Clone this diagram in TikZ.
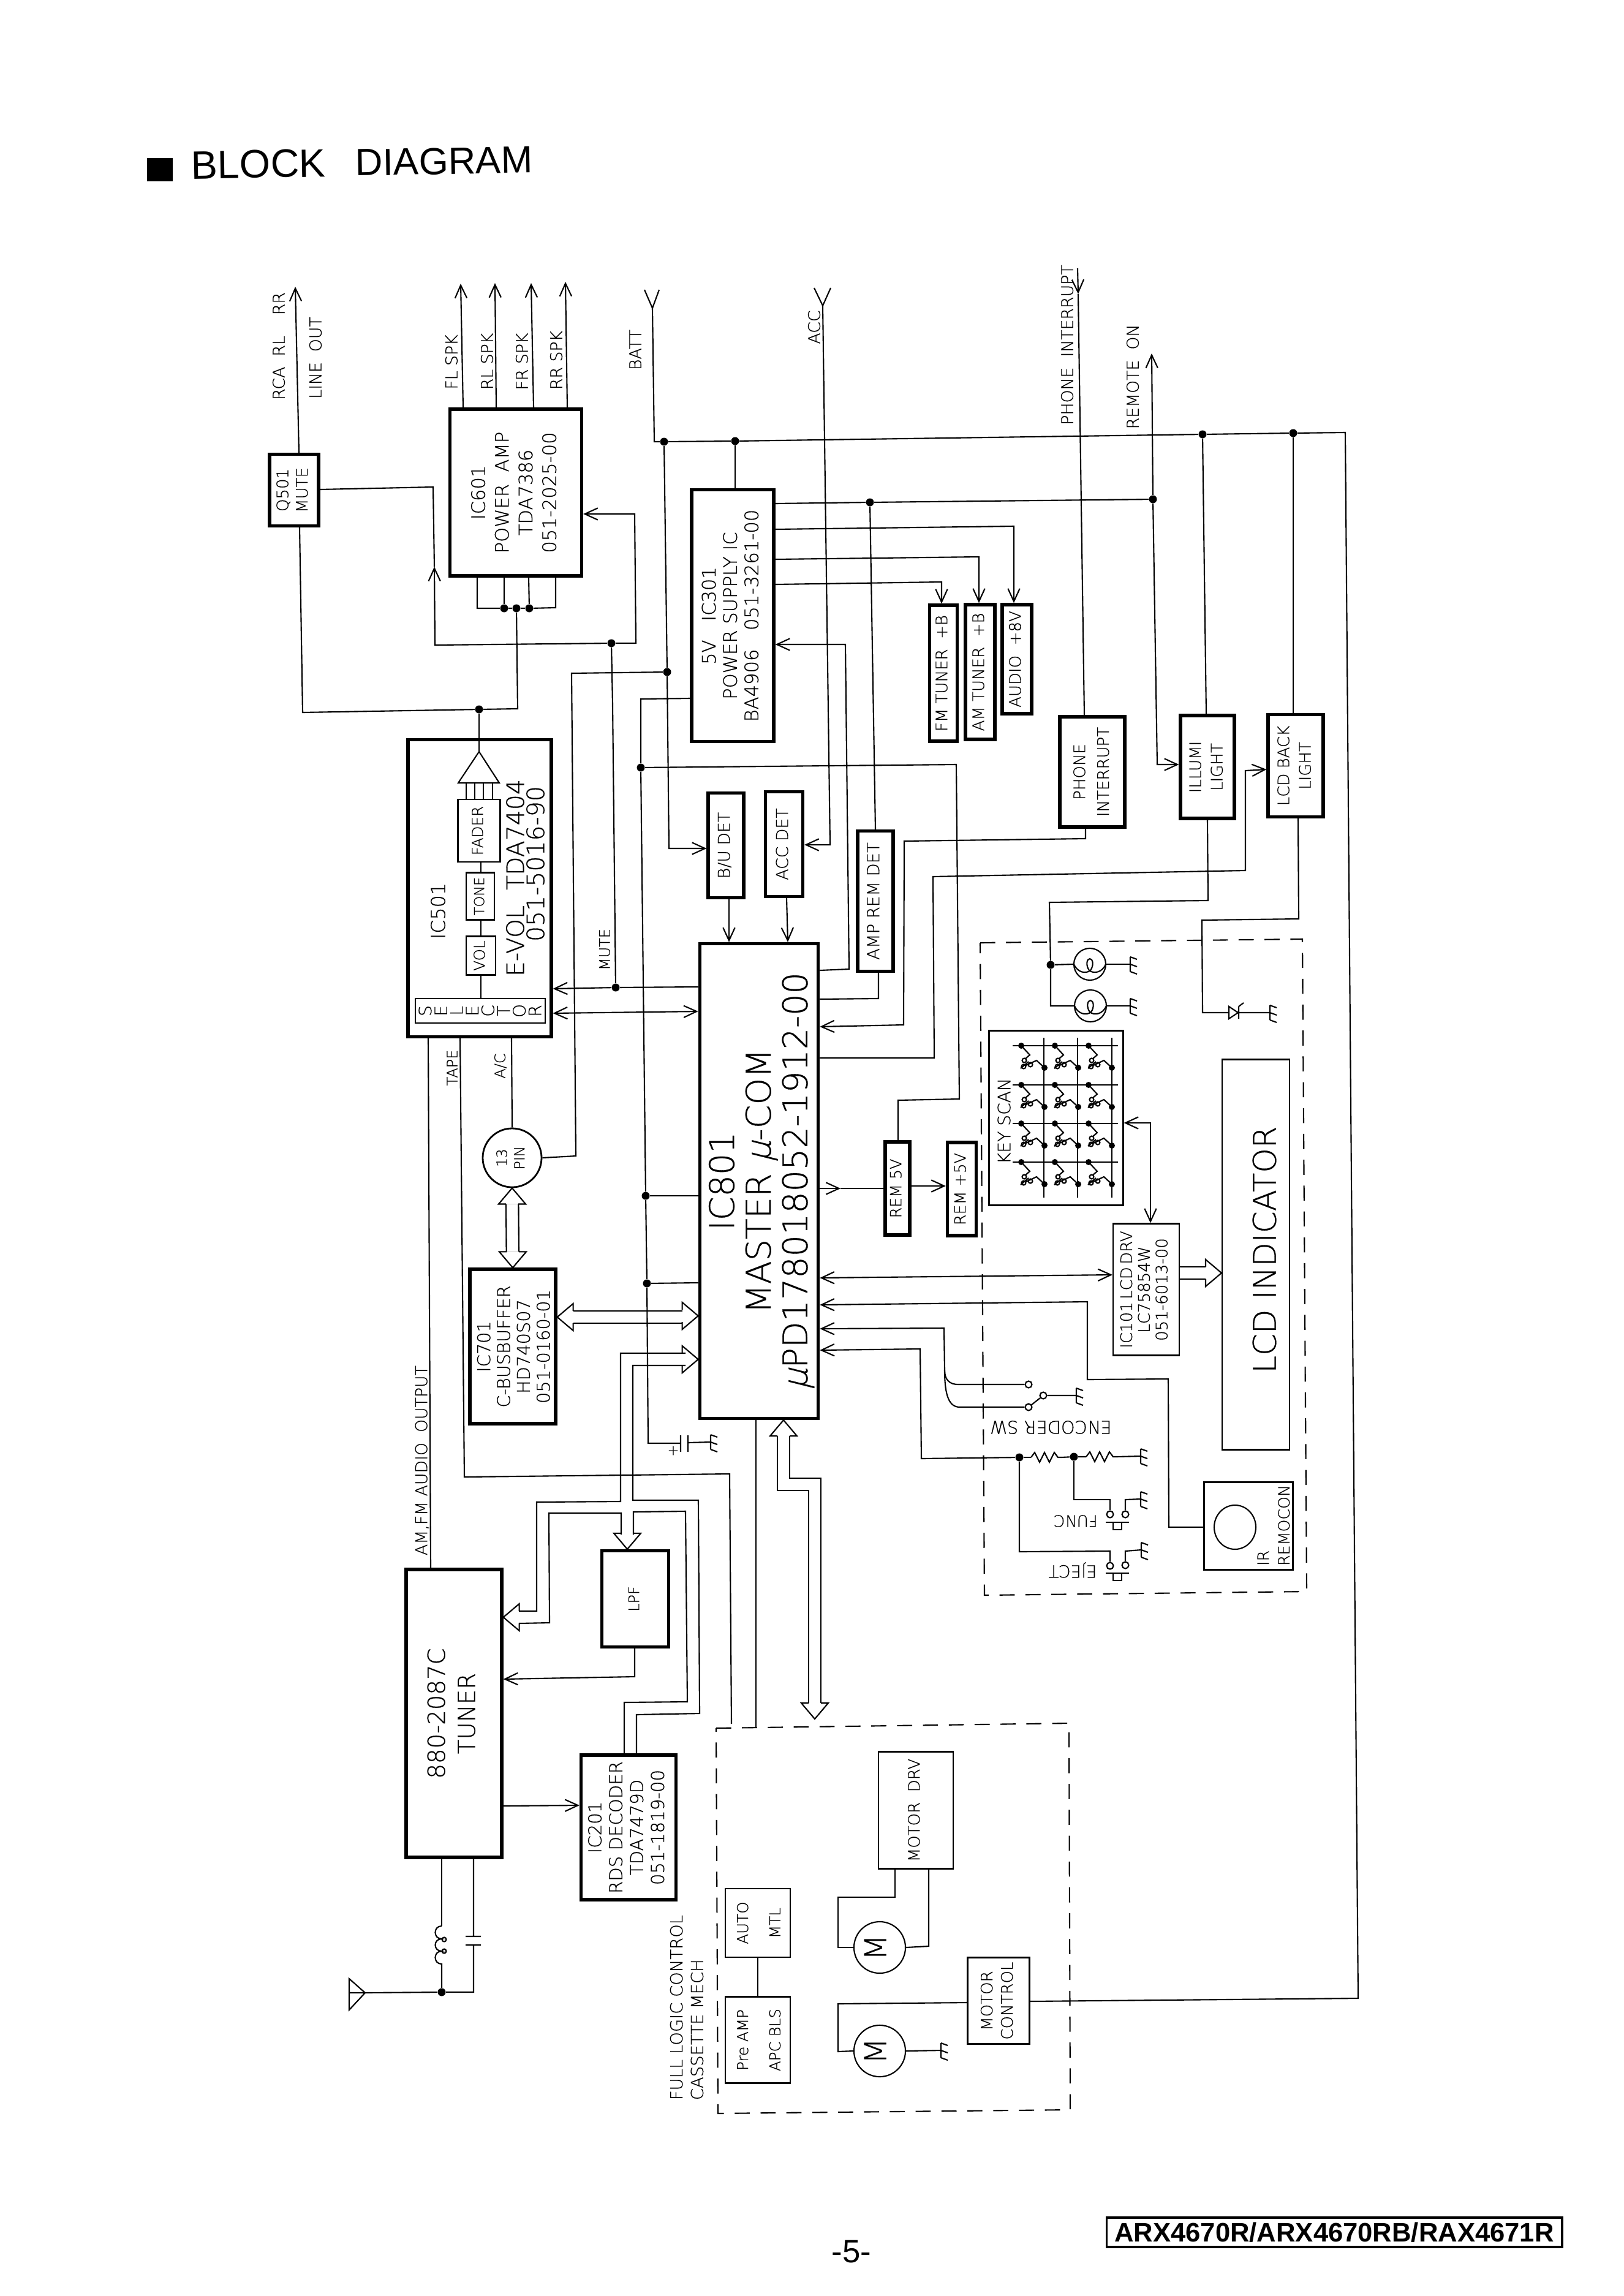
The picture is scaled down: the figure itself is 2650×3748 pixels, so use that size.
\documentclass[tikz,border=0pt]{standalone}
\usepackage{fontspec}
\usepackage{graphicx}
\usetikzlibrary{arrows.meta}
\setmainfont[RawFeature={embolden=0.5}]{DejaVu Sans ExtraLight}
\newfontfamily\heavyfont{Liberation Sans}
\newcommand{\vtxt}[1]{\rotatebox{90}{\begin{tabular}{@{}c@{}}#1\end{tabular}}}
% open bus arrowhead, tip at #1, pointing along angle #2
\newcommand{\bushead}[2]{\draw[wire,shift={(#1)},rotate=#2] (-26,-10) -- (-26,-22) -- (0,0) -- (-26,22) -- (-26,10);}
\tikzset{
  fs/.style 2 args={font=\fontsize{#1}{#2}\selectfont},
  block/.style 2 args={draw,line width=1.5pt,inner sep=0pt,align=center,
              minimum width=#1*0.01cm,minimum height=#2*0.01cm},
  thinblock/.style 2 args={draw,line width=.6pt,inner sep=0pt,align=center,
              minimum width=#1*0.01cm,minimum height=#2*0.01cm},
  wire/.style={line width=.6pt},
  arr/.style={wire,-{Straight Barb[length=6pt,width=5.5pt]}},
  arrb/.style={wire,{Straight Barb[length=6pt,width=5.5pt]}-{Straight Barb[length=6pt,width=5.5pt]}},
  busline/.style={line width=.6pt,double,double distance=5.2pt,shorten <=7.4pt,shorten >=7.4pt},
  dashbox/.style={line width=.6pt,dash pattern=on 7pt off 5pt},
  dot/.style={circle,fill,inner sep=0pt,minimum size=.13cm},
  term/.style={circle,draw,fill=white,line width=.6pt,inner sep=0pt,minimum size=.11cm},
  vlab/.style={rotate=90,inner sep=0pt,fs={7.6}{9.6}},
  flab/.style={rotate=180,inner sep=0pt,fs={7.8}{9.6}},
  gnd/.pic={\draw[wire] (0,-12) -- (0,12) (0,-12) -- (11,-8) (0,0) -- (11,4) (0,12) -- (11,16);},
  res/.pic={\draw[wire] (0,0) -- (6,-8) -- (14,8) -- (22,-8) -- (30,8) -- (38,-8) -- (44,0) -- (49,0);},
  bulb/.pic={\draw[wire] (-26,0) .. controls (-20,14) and (-6,16) .. (1,10) .. controls (7,2) and (5,-9) .. (0,-9)
              .. controls (-5,-9) and (-7,2) .. (-1,10) .. controls (6,16) and (20,14) .. (26,0);},
  pushkey/.pic={\draw[wire] (-19,0) -- (19,0) (-7,0) rectangle (7,12);},
  keysw/.pic={\draw[wire] (0,0) -- (14,15) -- (7,21) (8,32) -- (25,24) -- (38,36) (-1,37) -- (12,26);
              \draw[wire] (5,24) circle (3.5) (4,34) circle (3.5) (15,31) circle (3.5);
              \fill (0,0) circle (5) (38,36) circle (5);}
}
\begin{document}
\begin{tikzpicture}[x=0.01cm,y=-0.01cm]
  \useasboundingbox (0,0) rectangle (2650,3748);

  % heading and page furniture
  \node[fill,minimum width=.42cm,minimum height=.38cm,inner sep=0pt] (mark) at (261,277) {};
  \node[font=\heavyfont\fontsize{18.4}{20}\selectfont,inner sep=0pt,rotate=1] (titlea) at (422,268) {BLOCK};
  \node[font=\heavyfont\fontsize{17.6}{20}\selectfont,inner sep=0pt,rotate=1] (titleb) at (725,263) {DIAGRAM};
  \node[font=\heavyfont\fontsize{15}{18}\selectfont,inner sep=0pt] (pageno) at (1390,3676) {-5-};
  \node[draw,line width=1pt,minimum width=7.43cm,minimum height=.48cm,inner sep=0pt,
        font=\heavyfont\bfseries\fontsize{12.4}{14}\selectfont] (model) at (2178,3644) {ARX4670R/ARX4670RB/RAX4671R};

  % blocks
  \node[block={80}{117},fs={7.4}{9}] (q501) at (480,800) {\vtxt{Q501\\MUTE}};
  \node[block={215}{272},fs={8.7}{11}] (ic601) at (842,804) {\vtxt{IC601\\POWER\ \ AMP\\TDA7386\\051-2025-00}};
  \node[block={134}{411},fs={8.7}{9.9}] (ic301) at (1196,1005) {\vtxt{5V\quad IC301\\POWER\ SUPPLY\ IC\\BA4906\quad 051-3261-00}};
  \node[block={45}{222},fs={7.4}{9}] (fmb) at (1540,1099) {\vtxt{FM\ TUNER\ \ +B}};
  \node[block={48}{220},fs={7.4}{9}] (amb) at (1600,1097) {\vtxt{AM\ TUNER\ \ +B}};
  \node[block={48}{178},fs={7.4}{9}] (audb) at (1660,1076) {\vtxt{AUDIO\ \ +8V}};
  \node[block={106}{180},fs={7.4}{11}] (phone) at (1783,1260) {\vtxt{PHONE\\INTERRUPT}};
  \node[block={88}{168},fs={7.4}{10}] (illumi) at (1971,1252) {\vtxt{ILLUMI\\LIGHT}};
  \node[block={90}{167},fs={7.4}{10}] (lcdback) at (2115,1250) {\vtxt{LCD BACK\\LIGHT}};
  \node[block={234}{485}] (ic501) at (783,1450) {};
  \node[block={58}{171},fs={7.6}{9}] (budet) at (1185,1380) {\vtxt{B/U DET}};
  \node[block={61}{171},fs={7.6}{9}] (accdet) at (1280,1378) {\vtxt{ACC DET}};
  \node[block={58}{229},fs={7.8}{9}] (ampdet) at (1429,1471) {\vtxt{AMP REM DET}};
  \node[block={192}{775},fs={15.8}{17}] (ic801) at (1239,1928)
       {\hspace{4pt}\vtxt{IC801\hspace{12pt}\\MASTER {\addfontfeature{FakeSlant=.25}µ}-COM\hspace{3pt}\\{\addfontfeature{FakeSlant=.25}µ}PD178018052-1912-00}};
  \node[block={40}{152},fs={7.2}{9}] (rem5) at (1465,1940) {\vtxt{REM\ 5V}};
  \node[block={47}{152},fs={7.2}{9}] (remp5) at (1570,1941) {\vtxt{REM\ +5V}};
  \node[block={136}{252},fs={8.2}{9.2}] (ic701) at (837,2198) {\hspace{3pt}\vtxt{IC701\\C-BUSBUFFER\\HD740S07\\051-0160-01}};
  \node[block={156}{470},fs={11}{14}] (tuner) at (741,2797) {\vtxt{880-2087C\\TUNER}};
  \node[block={109}{157},fs={6.8}{9}] (lpf) at (1037,2610) {\vtxt{LPF}};
  \node[block={155}{236},fs={8.3}{9.7}] (rds) at (1026,2983) {\vtxt{IC201\\RDS\ DECODER\\TDA7479D\\051-1819-00}};
  \node[circle,draw,line width=.8pt,inner sep=0pt,minimum size=.96cm,fs={6.6}{8.2}] (pin13) at (836,1890) {\vtxt{13\\PIN}};

  % inside the e-volume IC
  \node[vlab,fs={9}{11}] (ic501lab) at (715,1487) {IC501};
  \node[vlab,fs={11.2}{13}] (ic501evol) at (841,1433) {E-VOL\ \ TDA7404};
  \node[vlab,fs={11.2}{13}] (ic501no) at (874,1410) {051-5016-90};
  \node[thinblock={69}{102},fs={7}{9}] (fader) at (782,1356) {\vtxt{FADER}};
  \node[thinblock={46}{77},fs={6.4}{9}] (tone) at (784,1463) {\vtxt{TONE}};
  \node[thinblock={48}{63},fs={7}{9}] (vol) at (785,1560) {\vtxt{VOL}};
  \node[thinblock={212}{40}] (selbox) at (784,1650) {};
  \foreach \ch [count=\n] in {S,E,L,E,C,T,O,R}
    \node[vlab,fs={8}{9}] (sel\n) at ({694+25.6*(\n-1)},1650) {\ch};
  \draw[wire] (782,1227) -- (748,1278) -- (815,1278) -- cycle;
  \foreach \fx in {761,775,789,804}
    \draw[wire] (\fx,1278) -- (\fx,0 |- fader.north);
  \draw[wire] (785,0 |- fader.south) -- (785,0 |- tone.north) (785,0 |- tone.south) -- (785,0 |- vol.north)
              (785,0 |- vol.south) -- (785,0 |- selbox.north);

  % outer labels
  \node[vlab] (rcalab) at (455,565) {RCA\ \ RL\ \ \ \ RR};
  \node[vlab] (linelab) at (515,584) {LINE\ \ OUT};
  \node[vlab] (fllab) at (737,591) {FL\ SPK};
  \node[vlab] (rllab) at (795,590) {RL\ SPK};
  \node[vlab] (frlab) at (852,590) {FR\ SPK};
  \node[vlab] (rrlab) at (908,588) {RR\ SPK};
  \node[vlab] (battlab) at (1037,571) {BATT};
  \node[vlab] (acclab) at (1329,534) {ACC};
  \node[vlab] (phonelab) at (1742,563) {PHONE\ \ INTERRUPT};
  \node[vlab] (remlab) at (1849,615) {REMOTE\ \ ON};
  \node[vlab,fs={6.8}{8}] (mutelab) at (987,1550) {MUTE};
  \node[vlab,fs={6.8}{8}] (tapelab) at (738,1743) {TAPE};
  \node[vlab,fs={6.8}{8}] (aclab) at (817,1740) {A/C};
  \node[vlab] (amfmlab) at (689,2384) {AM,FM\ AUDIO\ \ OUTPUT};
  \node[vlab,align=left,fs={7.8}{9.6}] (mechlab) at (1121,3277) {FULL\ LOGIC\ CONTROL\\CASSETTE\ MECH};

  % front panel group
  \draw[dashbox] (1600,1539) -- (2126,1533) -- (2133,2598) -- (1607,2604) -- cycle;
  \node[thinblock={219}{285}] (keyscan) at (1724,1825) {};
  \node[vlab,fs={8}{9}] (keylab) at (1639,1830) {KEY\ SCAN};
  \node[thinblock={108}{215},fs={7.4}{8.2}] (ic101) at (1871,2105) {\vtxt{IC101\,LCD\,DRV\\LC75854W\\051-6013-00}};
  \node[thinblock={110}{637}] (lcdind) at (2050,2048) {};
  \node[vlab,fs={14.6}{16}] (lcdtxt) at (2064,2040) {LCD\ INDICATOR};
  \node[thinblock={145}{143}] (remocon) at (2038,2491) {};
  \draw[wire] (2016,2493) ellipse (34 and 36);
  \node[vlab,align=left,fs={7.2}{9.6}] (remotxt) at (2079,2490) {IR\\REMOCON};
  \node[circle,draw,line width=.6pt,inner sep=0pt,minimum size=.52cm] (lampa) at (1779,1574) {};
  \node[circle,draw,line width=.6pt,inner sep=0pt,minimum size=.52cm] (lampb) at (1780,1642) {};
  \pic at (lampa) {bulb};
  \pic at (lampb) {bulb};
  \node[flab,fs={8.2}{9.6}] (enclab) at (1715,2330) {ENCODER\ SW};
  \node[flab,fs={7.4}{9}] (funclab) at (1756,2483) {FUNC};
  \node[flab] (ejectlab) at (1751,2563) {EJECT};

  % cassette mech group
  \draw[dashbox] (1169,2821) -- (1745,2813) -- (1747,3444) -- (1172,3450) -- cycle;
  \node[thinblock={122}{191},fs={7.4}{9}] (motordrv) at (1495,2955) {\vtxt{MOTOR\ \ DRV}};
  \node[thinblock={100}{112},fs={7}{15}] (automtl) at (1237,3139) {\vtxt{AUTO\\MTL}};
  \node[thinblock={100}{141},fs={7}{15}] (preamp) at (1237,3330) {\vtxt{Pre\ AMP\\APC\ BLS}};
  \node[thinblock={101}{141},fs={7.4}{9.4}] (motorctl) at (1630,3266) {\vtxt{MOTOR\\CONTROL}};
  \node[circle,draw,line width=.6pt,inner sep=0pt,minimum size=.84cm,fs={14}{15}] (motora) at (1436,3179) {\vtxt{M}};
  \node[circle,draw,line width=.6pt,inner sep=0pt,minimum size=.84cm,fs={14}{15}] (motorb) at (1436,3348) {\vtxt{M}};

  % junctions
  \node[dot] (jbatt) at (1084,721) {};
  \node[dot] (jpsu) at (1200,720) {};
  \node[dot] (jillum) at (1963,709) {};
  \node[dot] (jback) at (2111,707) {};
  \node[dot] (jbu) at (1089,1097) {};
  \node[dot] (jamp) at (1420,820) {};
  \node[dot] (jrem) at (1882,815) {};
  \node[dot] (jfeed) at (998,1050) {};
  \node[dot] (jmix) at (782,1158) {};
  \node[dot] (jpa) at (823,993) {};
  \node[dot] (jpb) at (843,993) {};
  \node[dot] (jpc) at (864,993) {};
  \node[dot] (jmute) at (1005,1612) {};
  \node[dot] (jref) at (1046,1253) {};
  \node[dot] (jla) at (1054,1952) {};
  \node[dot] (jlb) at (1056,2095) {};
  \node[dot] (jlamp) at (1715,1575) {};
  \node[dot] (jres) at (1664,2379) {};
  \node[dot] (jfunc) at (1753,2378) {};
  \node[dot] (jant) at (721,3252) {};
  \node[term] (tenca) at (1679,2260) {};
  \node[term] (tencb) at (1703,2278) {};
  \node[term] (tencc) at (1679,2297) {};
  \node[term] (tfunca) at (1812,2472) {};
  \node[term] (tfuncb) at (1837,2472) {};
  \node[term] (tejca) at (1812,2556) {};
  \node[term] (tejcb) at (1837,2555) {};
  \coordinate (battant) at (1065,503);
  \coordinate (accant) at (1343,499);
  \coordinate (linetip) at (482,468);
  \coordinate (fltip) at (752,463);
  \coordinate (rltip) at (808,462);
  \coordinate (frtip) at (867,462);
  \coordinate (rrtip) at (923,460);
  \coordinate (remtip) at (1880,577);
  \coordinate (phtop) at (1759,438);
  \coordinate (phtip) at (1760,480);

  % buses
  \draw[busline] (pin13.south) -- (ic701.north);
  \bushead{pin13.south}{90}
  \bushead{ic701.north}{-90}
  \draw[busline] (ic701.east |- 0,2150) -- (ic801.west |- 0,2150);
  \bushead{ic701.east |- 0,2150}{180}
  \bushead{ic801.west |- 0,2148}{0}
  \draw[busline] (1279,0 |- ic801.south) -- (1279,2423) -- (1330,2423) -- (1330,2806);
  \bushead{1279,0 |- ic801.south}{90}
  \bushead{1330,2806}{-90}
  \draw[busline,shorten <=0pt] (ic101.east |- 0,2078) -- (lcdind.west |- 0,2078);
  \bushead{lcdind.west |- 0,2078}{0}
  \bushead{ic801.west |- 0,2219}{0}
  \bushead{tuner.east |- 0,2640}{180}
  \bushead{1024,0 |- lpf.north}{-90}
  \draw[wire] (1119,2209) -- (1013,2209) -- (1013,2451) -- (876,2452) -- (876,2630) -- (847,2630);
  \draw[wire] (1119,2229) -- (1033,2229) -- (1033,2449) -- (1140,2449) -- (1142,2797) -- (1039,2799) -- (1039,0 |- rds.north);
  \draw[wire] (847,2650) -- (897,2649) -- (896,2470) -- (1014,2470) -- (1014,2505);
  \draw[wire] (1034,2505) -- (1034,2468) -- (1119,2467) -- (1122,2778) -- (1019,2779) -- (1019,0 |- rds.north);

  % supply rail and IC301
  \draw[wire] (battant) -- ++(-13,-30) (battant) -- ++(11,-30);
  \draw[wire] (accant) -- ++(-14,-29) (accant) -- ++(13,-29);
  \draw[wire] (battant) -- (1068,721) -- (jbatt) -- (jpsu) -- (jillum) -- (jback) -- (2196,706) -- (2217,3262) -- (motorctl.east |- 0,3267);
  \draw[wire] (jpsu) -- (jpsu |- ic301.north);
  \draw[wire] (jbatt) -- (jbu);
  \draw[arr] (jbu) -- (1092,1385) -- (budet.west |- 0,1385);
  \draw[wire] (jbu) -- (933,1099) -- (940,1887) -- (pin13.east);
  \draw[arr] (accant) -- (1355,1379) -- (accdet.east |- 0,1379);
  \draw[wire] (ic301.east |- 0,822) -- (jamp) -- (jrem);
  \draw[wire] (jamp) -- (ampdet.north);
  \draw[arr] (jrem) -- (remtip);
  \draw[arr] (jrem) -- (1889,1248) -- (illumi.west |- 0,1248);
  \draw[arr] (ic301.east |- 0,864) -- (1655,859) -- (1655,0 |- audb.north);
  \draw[arr] (ic301.east |- 0,913) -- (1598,909) -- (1598,0 |- amb.north);
  \draw[arr] (ic301.east |- 0,954) -- (1537,950) -- (1537,0 |- fmb.north);
  \draw[arr] (ic801.east |- 0,1584) -- (1386,1582) -- (1380,1052) -- (ic301.east |- 0,1052);
  \draw[wire] (ic301.west |- 0,1140) -- (1046,1141) -- (jref) -- (jla) -- (jlb) -- (1058,2356) -- (1111,2356);
  \draw[wire] (jref) -- (1561,1248) -- (1566,1794) -- (1466,1796) -- (1466,0 |- rem5.north);
  \draw[wire] (jla) -- (ic801.west |- 0,1952);
  \draw[wire] (jlb) -- (ic801.west |- 0,2094);
  \draw[wire] (1111,2343) -- (1111,2370) (1123,2343) -- (1123,2370) (1123,2355) -- (1160,2354);
  \node[inner sep=0pt,fs={6.5}{8}] (capplus) at (1099,2368) {+};
  \pic at (1160,2354) {gnd};

  % power amp and mute
  \draw[arr] (488,0 |- q501.north) -- (linetip);
  \draw[arr] (756,0 |- ic601.north) -- (fltip);
  \draw[arr] (810,0 |- ic601.north) -- (rltip);
  \draw[arr] (871,0 |- ic601.north) -- (frtip);
  \draw[arr] (926,0 |- ic601.north) -- (rrtip);
  \draw[wire] (779,0 |- ic601.south) -- (779,993) -- (jpa) -- (jpb) -- (jpc) -- (907,992) -- (907,0 |- ic601.south);
  \draw[wire] (823,0 |- ic601.south) -- (jpa) (863,0 |- ic601.south) -- (jpc);
  \draw[wire] (jpb) -- (845,1157) -- (jmix) -- (494,1163) -- (489,0 |- q501.south);
  \draw[wire] (jmix) -- (782,1227);
  \draw[arr] (jfeed) -- (1038,1050) -- (1036,839) -- (ic601.east |- 0,839);
  \draw[arr] (jfeed) -- (710,1053) -- (709,925);
  \draw[wire] (709,925) -- (707,795) -- (q501.east |- 0,799);
  \draw[wire] (jfeed) -- (1000,1150) -- (jmute);
  \draw[arr] (jmute) -- (ic501.east |- 0,1614);
  \draw[wire] (jmute) -- (ic801.west |- 0,1611);
  \draw[arrb] (ic501.east |- 0,1654) -- (ic801.west |- 0,1651);
  \draw[wire] (699,0 |- ic501.south) -- (703,0 |- tuner.north);
  \draw[wire] (751,0 |- ic501.south) -- (758,2411) -- (1191,2406) -- (1194,2814);
  \draw[wire] (835,0 |- ic501.south) -- (pin13.north);

  % around IC801
  \draw[arr] (1190,0 |- budet.south) -- (1190,0 |- ic801.north);
  \draw[arr] (1284,0 |- accdet.south) -- (1286,0 |- ic801.north);
  \draw[wire] (1434,0 |- ampdet.south) -- (1434,1630) -- (ic801.east |- 0,1631);
  \draw[arr] (phtop) -- (phtip);
  \draw[wire] (phtip) -- (1770,0 |- phone.north);
  \draw[arr] (1772,0 |- phone.south) -- (1772,1369) -- (1476,1373) -- (1475,1673) -- (ic801.east |- 0,1676);
  \draw[arr] (ic801.east |- 0,1727) -- (1525,1727) -- (1523,1431) -- (2033,1421) -- (2033,1258) -- (lcdback.west |- 0,1256);
  \draw[arr] (ic801.east |- 0,1940) -- (1372,1940);
  \draw[wire] (1372,1940) -- (rem5.west |- 0,1940);
  \draw[arr] (rem5.east |- 0,1936) -- (remp5.west |- 0,1936);
  \draw[arrb] (ic801.east |- 0,2086) -- (ic101.west |- 0,2081);
  \draw[arr] (remocon.west |- 0,2493) -- (1908,2493) -- (1907,2251) -- (1775,2252) -- (1775,2125) -- (ic801.east |- 0,2130);
  \draw[arr] (tenca) -- (1564,2260) .. controls (1550,2260) and (1542,2252) .. (1542,2237) -- (1541,2168) -- (ic801.east |- 0,2169);
  \draw[wire] (tencc) -- (1567,2297) .. controls (1550,2297) and (1542,2280) .. (1542,2237);
  \draw[wire] (tencc) -- (tencb) -- (1757,2278);
  \pic at (1757,2278) {gnd};
  \draw[arr] (jres) -- (1504,2381) -- (1502,2202) -- (ic801.east |- 0,2204);
  \draw[wire] (jres) -- (1683,2379);
  \pic at (1683,2379) {res};
  \draw[wire] (1732,2379) -- (jfunc) -- (1773,2378);
  \pic at (1773,2378) {res};
  \draw[wire] (1822,2378) -- (1862,2377);
  \pic at (1862,2377) {gnd};
  \draw[wire] (jfunc) -- (1753,2448) -- (1812,2448) -- (tfunca);
  \draw[wire] (tfuncb) -- (1837,2448) -- (1862,2447);
  \pic at (1862,2447) {gnd};
  \pic at (1824,2485) {pushkey};
  \draw[wire] (jres) -- (1664,2533) -- (1812,2532) -- (tejca);
  \draw[wire] (tejcb) -- (1837,2532) -- (1863,2530);
  \pic at (1863,2530) {gnd};
  \pic at (1824,2568) {pushkey};

  % lamps, diode and key matrix
  \draw[wire] (1971,0 |- illumi.south) -- (1972,1470) -- (1713,1473) -- (jlamp) -- (1715,1642) -- (lampb.west);
  \draw[wire] (jlamp) -- (lampa.west);
  \draw[wire] (lampa.east) -- (1845,1574);
  \draw[wire] (lampb.east) -- (1845,1642);
  \pic at (1845,1574) {gnd};
  \pic at (1845,1642) {gnd};
  \draw[wire] (jillum) -- (1969,0 |- illumi.north);
  \draw[wire] (jback) -- (2111,0 |- lcdback.north);
  \draw[wire] (2119,0 |- lcdback.south) -- (2120,1500) -- (1962,1502) -- (1963,1653) -- (2006,1653);
  \draw[wire] (2006,1643) -- (2006,1663) -- (2021,1653) -- cycle (2022,1643) -- (2022,1663)
              (2022,1643) -- (2030,1637) (2022,1653) -- (2073,1653);
  \pic at (2073,1653) {gnd};
  \foreach \ry in {1707,1771,1834,1897}
    \draw[wire] (1653,\ry) -- (1825,\ry);
  \foreach \cx in {1704,1759,1815}
    \draw[line width=.8pt] (\cx,1694) -- (\cx,1955);
  \foreach \ry in {1707,1771,1834,1897}
    \foreach \kx in {1667,1722,1777}
      \pic at (\kx,\ry) {keysw};
  \draw[arrb] (keyscan.east |- 0,1833) -- (1878,1833) -- (1878,0 |- ic101.north);

  % tuner and aerial
  \draw[arr] (1036,0 |- lpf.south) -- (1036,2737) -- (tuner.east |- 0,2741);
  \draw[arr] (tuner.east |- 0,2948) -- (rds.west |- 0,2947);
  \draw[wire] (721,0 |- tuner.south) -- (721,3144);
  \draw[wire] (721,3144) .. controls (707,3144) and (707,3165) .. (721,3165)
              .. controls (707,3165) and (707,3185) .. (721,3185)
              .. controls (707,3185) and (707,3206) .. (721,3206) -- (jant);
  \draw[wire] (725,3166) circle (3.5) (725,3185) circle (3.5);
  \draw[wire] (773,0 |- tuner.south) -- (773,3161) (760,3161) -- (785,3161) (760,3175) -- (785,3175)
              (773,3175) -- (773,3252) -- (jant) -- (596,3253);
  \draw[wire] (570,3230) -- (570,3281) -- (596,3253) -- cycle (570,3253) -- (596,3253);

  % links in the cassette mech
  \draw[wire] (1234,0 |- ic801.south) -- (1234,2819);
  \draw[wire] (automtl.south) -- (preamp.north);
  \draw[wire] (1461,0 |- motordrv.south) -- (1461,3097) -- (1368,3097) -- (1368,3179) -- (motora.west);
  \draw[wire] (1516,0 |- motordrv.south) -- (1516,3177) -- (motora.east);
  \draw[wire] (motorctl.west |- 0,3269) -- (1368,3271) -- (1368,3349) -- (motorb.west);
  \draw[wire] (motorb.east) -- (1536,3347);
  \pic at (1536,3347) {gnd};
\end{tikzpicture}
\end{document}
